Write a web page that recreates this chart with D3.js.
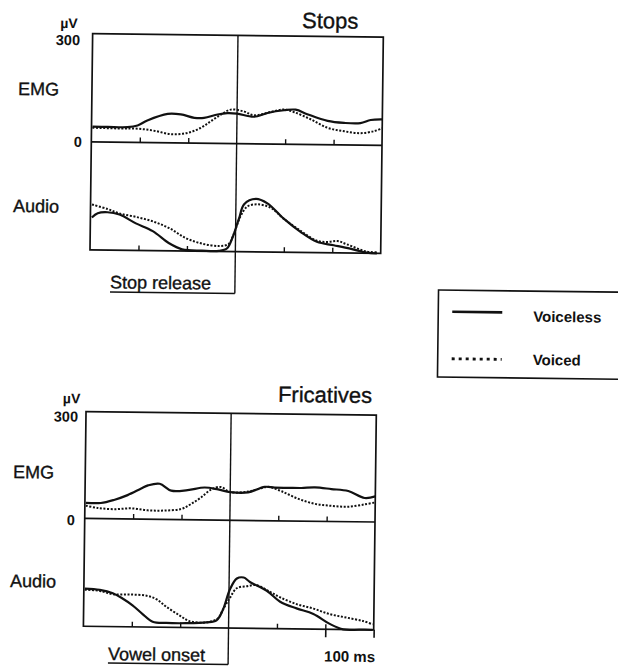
<!DOCTYPE html>
<html>
<head>
<meta charset="utf-8">
<script src="https://cdn.jsdelivr.net/npm/d3@7"></script>
<style>
  html, body { margin: 0; padding: 0; background: #fff; }
  svg { display: block; }
  text { font-family: "Liberation Sans", Arial, Helvetica, sans-serif; fill: #111; }
  text.reg { stroke: #111; stroke-width: 0.35; }
</style>
</head>
<body>
<svg id="chart" width="618" height="666"></svg>
<script>
// Time axis (ms relative to the acoustic event) and amplitude ticks
const timeDomain = [-300, 300];
const timeTicks = [-200, -100, 100, 200];
const scaleBarTicks = [200, 300];
const scaleBarLabel = "100 ms";
const emgDomain = [0, 300];
const emgUnit = "µV";
const audioDomain = [0, 1];
const seriesNames = ["Voiceless", "Voiced"];
const panelTitles = ["Stops", "Fricatives"];
const eventLabels = ["Stop release", "Vowel onset"];

// Stops: EMG (µV) and audio envelope (relative), [ms, value]
const stopsEmgVoiceless = [[-298,42],[-267,42],[-226,42],[-205,47],[-185,61],[-143,80],[-116,79],[-88,70],[-68,70],[-40,80],[-20,84],[0,83],[35,75],[63,86],[97,94],[121,96],[145,84],[187,66],[221,61],[255,61],[276,70],[300,72]];
const stopsEmgVoiced = [[-298,39],[-240,38],[-205,38],[-171,33],[-136,24],[-102,28],[-75,42],[-54,61],[-33,80],[-13,94],[15,89],[35,79],[70,89],[97,96],[118,89],[152,70],[187,47],[221,38],[255,33],[283,39],[300,47]];
const stopsAudioVoiceless = [[-297,0.30],[-285,0.34],[-265,0.35],[-240,0.33],[-206,0.25],[-171,0.18],[-137,0.07],[-110,0.015],[-69,0.005],[-34,0.005],[-17,0.03],[-7,0.12],[7,0.31],[17,0.44],[41,0.49],[65,0.45],[99,0.31],[134,0.19],[168,0.10],[203,0.07],[237,0.04],[271,0.005],[292,0]];
const stopsAudioVoiced = [[-297,0.42],[-265,0.38],[-240,0.34],[-206,0.31],[-171,0.27],[-137,0.21],[-103,0.12],[-69,0.07],[-34,0.05],[-14,0.07],[-4,0.16],[10,0.33],[24,0.42],[45,0.44],[72,0.41],[99,0.31],[134,0.20],[168,0.11],[190,0.10],[210,0.11],[230,0.08],[271,0.015],[292,0.01]];

// Fricatives: EMG (µV) and audio envelope (relative), [ms, value]
const fricEmgVoiceless = [[-298,44],[-267,44],[-240,53],[-212,67],[-184,86],[-170,95],[-146,100],[-122,81],[-88,83],[-53,91],[-25,86],[0,79],[37,79],[71,95],[92,93],[120,93],[147,93],[175,95],[209,91],[244,86],[278,67],[300,72]];
const fricEmgVoiced = [[-298,36],[-274,30],[-240,27],[-205,30],[-170,25],[-136,25],[-101,30],[-81,44],[-60,63],[-39,86],[-19,93],[0,79],[37,81],[57,88],[78,95],[106,83],[140,63],[175,49],[209,44],[244,42],[278,49],[300,55]];
const fricAudioVoiceless = [[-298,0.35],[-267,0.34],[-240,0.31],[-219,0.26],[-199,0.20],[-178,0.12],[-157,0.05],[-129,0.04],[-88,0.04],[-46,0.05],[-25,0.07],[-12,0.17],[2,0.36],[16,0.46],[30,0.47],[43,0.43],[78,0.35],[106,0.25],[140,0.19],[175,0.14],[209,0.05],[237,0],[271,0],[298,0]];
const fricAudioVoiced = [[-298,0.34],[-267,0.33],[-240,0.30],[-205,0.30],[-170,0.29],[-150,0.26],[-129,0.19],[-101,0.11],[-81,0.06],[-46,0.05],[-22,0.09],[-12,0.17],[2,0.28],[16,0.37],[37,0.39],[57,0.40],[85,0.34],[106,0.29],[140,0.23],[175,0.19],[209,0.14],[244,0.11],[278,0.08],[298,0.05]];

const ink = "#111";
const dotDash = "2,1.6";

// Panel geometry
const panels = [
  { title: panelTitles[0], event: eventLabels[0],
    emg: [stopsEmgVoiceless, stopsEmgVoiced], audio: [stopsAudioVoiceless, stopsAudioVoiced],
    x0: 89, x1: 379.7, top: 36.3, zero: 144.5, bottom: 252.5, lineEnd: 294.5,
    titleX: 354.5, titleY: 28, unitX: 65.3, unitY: 31, maxX: 76.5, maxDy: 11.7,
    zeroX: 79.7, zeroDy: 5.2, emgLabelX: 15, emgLabelY: 98.5, audLabelX: 11.5, audLabelY: 215.6,
    eventX: 109.5, eventY: 290.7, scaleBar: false },
  { title: panelTitles[1], event: eventLabels[1],
    emg: [fricEmgVoiceless, fricEmgVoiced], audio: [fricAudioVoiceless, fricAudioVoiced],
    x0: 87, x1: 377.3, top: 414.3, zero: 521.2, bottom: 629, lineEnd: 665.5,
    titleX: 372.9, titleY: 402.2, unitX: 72.4, unitY: 406.2, maxX: 79.1, maxDy: 10.2,
    zeroX: 77.3, zeroDy: 6.7, emgLabelX: 14.8, emgLabelY: 481.6, audLabelX: 13.1, audLabelY: 590.6,
    eventX: 112, eventY: 662.5, scaleBar: true }
];

const svg = d3.select("#chart");
const root = svg.append("g").attr("transform", "rotate(0.7,309,333)");

panels.forEach(p => {
  const g = root.append("g");
  const x = d3.scaleLinear().domain(timeDomain).range([p.x0, p.x1]);
  const yEmg = d3.scaleLinear().domain(emgDomain).range([p.zero, p.top]);
  const yAud = d3.scaleLinear().domain(audioDomain).range([p.bottom, p.zero]);

  // Frame and the divider between EMG and audio traces
  g.append("rect")
    .attr("x", x(timeDomain[0])).attr("y", yEmg(emgDomain[1]))
    .attr("width", x(timeDomain[1]) - x(timeDomain[0]))
    .attr("height", yAud(0) - yEmg(emgDomain[1]))
    .attr("fill", "none").attr("stroke", ink).attr("stroke-width", 1.7);
  g.append("line")
    .attr("x1", x(timeDomain[0])).attr("x2", x(timeDomain[1]))
    .attr("y1", yEmg(0)).attr("y2", yEmg(0))
    .attr("stroke", ink).attr("stroke-width", 1.7);

  // Time ticks pointing up from each baseline
  [yEmg(0), yAud(0)].forEach(yb => {
    const ax = g.append("g").attr("transform", `translate(0,${yb})`)
      .call(d3.axisTop(x).tickValues(timeTicks).tickSize(5).tickFormat(""));
    ax.select(".domain").remove();
    ax.selectAll("line").attr("stroke", ink).attr("stroke-width", 1.4);
  });

  // 100 ms scale bar under the audio trace
  if (p.scaleBar) {
    const sb = g.append("g").attr("transform", `translate(0,${yAud(0)})`)
      .call(d3.axisBottom(x).tickValues(scaleBarTicks).tickSize(8).tickFormat(""));
    sb.select(".domain").remove();
    sb.selectAll("line").attr("stroke", ink).attr("stroke-width", 1.6);
    g.append("text").attr("x", 379).attr("y", p.eventY - 1.3)
      .attr("text-anchor", "end").attr("font-weight", "bold").attr("font-size", 15)
      .text(scaleBarLabel);
  }

  // Event marker line, with the underlined label joined to it
  g.append("line")
    .attr("x1", x(0)).attr("x2", x(0))
    .attr("y1", yEmg(emgDomain[1])).attr("y2", p.lineEnd)
    .attr("stroke", ink).attr("stroke-width", 1.4);
  g.append("line")
    .attr("x1", p.eventX).attr("x2", x(0))
    .attr("y1", p.lineEnd).attr("y2", p.lineEnd)
    .attr("stroke", ink).attr("stroke-width", 1.5);
  g.append("text").attr("class", "reg").attr("x", p.eventX).attr("y", p.eventY)
    .attr("font-size", 18).text(p.event);

  // Traces
  const emgLine = d3.line().x(d => x(d[0])).y(d => yEmg(d[1])).curve(d3.curveCatmullRom.alpha(0.5));
  const audLine = d3.line().x(d => x(d[0])).y(d => yAud(d[1])).curve(d3.curveCatmullRom.alpha(0.5));
  p.emg.forEach((s, i) => {
    g.append("path").datum(s).attr("d", emgLine)
      .attr("fill", "none").attr("stroke", ink)
      .attr("stroke-width", i === 0 ? 2.2 : 2)
      .attr("stroke-dasharray", i === 0 ? null : dotDash);
  });
  p.audio.forEach((s, i) => {
    g.append("path").datum(s).attr("d", audLine)
      .attr("fill", "none").attr("stroke", ink)
      .attr("stroke-width", i === 0 ? 2.2 : 2)
      .attr("stroke-dasharray", i === 0 ? null : dotDash);
  });

  // Titles and axis labels
  g.append("text").attr("class", "reg").attr("x", p.titleX).attr("y", p.titleY)
    .attr("text-anchor", "end").attr("font-size", 22).text(p.title);
  g.append("text").attr("x", p.unitX).attr("y", p.unitY)
    .attr("text-anchor", "middle").attr("font-weight", "bold").attr("font-size", 14).text(emgUnit);
  g.append("text").attr("x", p.maxX).attr("y", yEmg(emgDomain[1]) + p.maxDy)
    .attr("text-anchor", "end").attr("font-weight", "bold").attr("font-size", 14.5).text(emgDomain[1]);
  g.append("text").attr("x", p.zeroX).attr("y", yEmg(0) + p.zeroDy)
    .attr("text-anchor", "end").attr("font-weight", "bold").attr("font-size", 14.5).text(emgDomain[0]);
  g.append("text").attr("class", "reg").attr("x", p.emgLabelX).attr("y", p.emgLabelY)
    .attr("font-size", 18).text("EMG");
  g.append("text").attr("class", "reg").attr("x", p.audLabelX).attr("y", p.audLabelY)
    .attr("font-size", 18).text("Audio");
});

// Legend
const legend = root.append("g");
legend.append("rect").attr("x", 438).attr("y", 288.4).attr("width", 220).attr("height", 87)
  .attr("fill", "none").attr("stroke", ink).attr("stroke-width", 1.6);
const legendRows = [{ y: 310, ty: 319 }, { y: 357, ty: 362.3 }];
seriesNames.forEach((name, i) => {
  legend.append("line")
    .attr("x1", 452).attr("x2", 502).attr("y1", legendRows[i].y).attr("y2", legendRows[i].y)
    .attr("stroke", ink).attr("stroke-width", i === 0 ? 2.6 : 2.8)
    .attr("stroke-dasharray", i === 0 ? null : "3,4");
  legend.append("text").attr("x", 533).attr("y", legendRows[i].ty)
    .attr("font-weight", "bold").attr("font-size", 15).text(name);
});
</script>
</body>
</html>
